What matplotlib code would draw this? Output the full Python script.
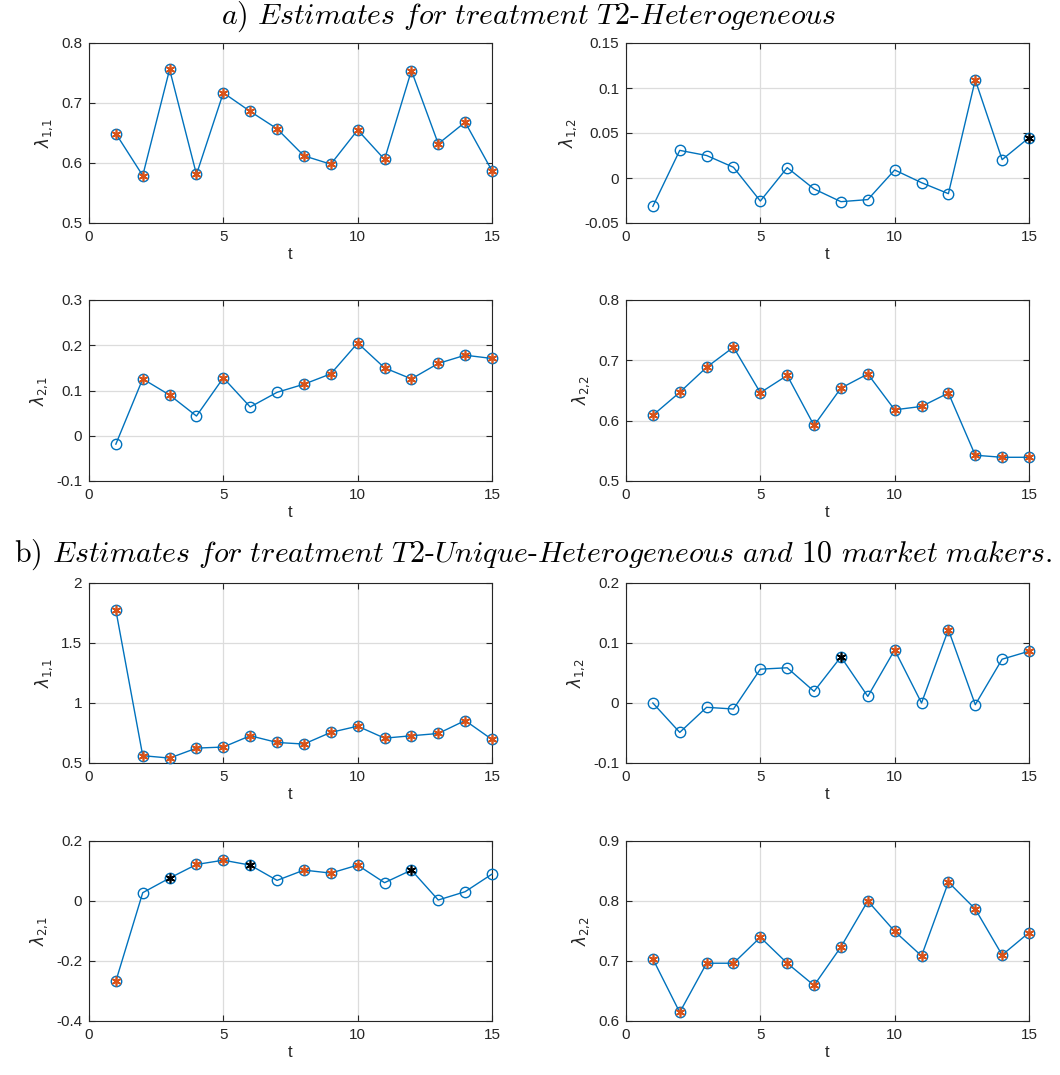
import matplotlib
matplotlib.use("Agg")
import matplotlib.pyplot as plt
import numpy as np

t = np.arange(1, 16)

# panel a) T2-Heterogeneous
a11 = [0.649, 0.579, 0.756, 0.581, 0.717, 0.686, 0.657, 0.612, 0.598, 0.655, 0.606, 0.754, 0.632, 0.668, 0.587]
a12 = [-0.0315, 0.0307, 0.025, 0.0119, -0.0256, 0.0115, -0.0122, -0.0263, -0.024, 0.0089, -0.0052, -0.0174, 0.109, 0.0204, 0.0448]
a21 = [-0.0185, 0.1257, 0.090, 0.0436, 0.128, 0.0636, 0.096, 0.1139, 0.1368, 0.2049, 0.150, 0.1257, 0.1598, 0.178, 0.1708]
a22 = [0.609, 0.647, 0.6885, 0.7218, 0.6464, 0.675, 0.592, 0.654, 0.6774, 0.618, 0.6236, 0.6458, 0.5427, 0.5393, 0.5393]

# panel b) T2-Unique-Heterogeneous, 10 market makers
b11 = [1.773, 0.561, 0.541, 0.624, 0.633, 0.727, 0.671, 0.658, 0.755, 0.807, 0.707, 0.727, 0.746, 0.854, 0.696]
b12 = [0.0, -0.049, -0.0072, -0.010, 0.0564, 0.0587, 0.0194, 0.0769, 0.011, 0.0885, 0.0, 0.1223, -0.0028, 0.073, 0.0863]
b21 = [-0.267, 0.0277, 0.0764, 0.1218, 0.136, 0.1196, 0.0687, 0.103, 0.093, 0.1196, 0.061, 0.103, 0.0033, 0.031, 0.0897]
b22 = [0.7035, 0.6144, 0.6963, 0.6963, 0.7395, 0.6963, 0.6593, 0.7235, 0.800, 0.7495, 0.7085, 0.8314, 0.7866, 0.710, 0.7473]

# periods flagged as significant (orange) and the other flag (black)
all_t = list(range(1, 16))
a11_sig, a11_blk = all_t, []
a12_sig, a12_blk = [13], [15]
a21_sig, a21_blk = [2, 3, 5, 8, 9, 10, 11, 12, 13, 14, 15], []
a22_sig, a22_blk = all_t, []
b11_sig, b11_blk = all_t, []
b12_sig, b12_blk = [10, 12, 15], [8]
b21_sig, b21_blk = [1, 4, 5, 8, 9, 10], [3, 6, 12]
b22_sig, b22_blk = all_t, []

ylims = {
    "a11": (0.5, 0.8, [0.5, 0.6, 0.7, 0.8]),
    "a12": (-0.05, 0.15, [-0.05, 0, 0.05, 0.1, 0.15]),
    "a21": (-0.1, 0.3, [-0.1, 0, 0.1, 0.2, 0.3]),
    "a22": (0.5, 0.8, [0.5, 0.6, 0.7, 0.8]),
    "b11": (0.5, 2, [0.5, 1, 1.5, 2]),
    "b12": (-0.1, 0.2, [-0.1, 0, 0.1, 0.2]),
    "b21": (-0.4, 0.2, [-0.4, -0.2, 0, 0.2]),
    "b22": (0.6, 0.9, [0.6, 0.7, 0.8, 0.9]),
}

BLUE = "#0072BD"
ORANGE = "#D95319"
AST = (6, 2, 0)
TXT = "#262626"

plt.rcParams["font.family"] = ["Liberation Sans", "DejaVu Sans"]

fig = plt.figure(figsize=(10.6, 10.75), dpi=100)

W, H = 1060, 1075
lefts = [89, 626]
rows = [(43, 223), (300, 481), (583, 763), (841, 1021)]


def panel(row, col, y, sig, blk, key, ylab):
    top, bot = rows[row]
    ax = fig.add_axes([lefts[col] / W, 1 - bot / H, 403 / W, (bot - top) / H])
    y = np.asarray(y)
    ax.plot(t, y, color=BLUE, lw=1.0, marker="o", ms=7.5, mfc="none", mec=BLUE,
            mew=1.0, zorder=3, clip_on=False)
    s = np.array(sig, dtype=int)
    if len(s):
        ax.plot(s, y[s - 1], ls="none", marker=AST, ms=7, color=ORANGE, mew=1.2,
                zorder=4, clip_on=False)
    b = np.array(blk, dtype=int)
    if len(b):
        ax.plot(b, y[b - 1], ls="none", marker=AST, ms=7, color="black", mew=1.2,
                zorder=4, clip_on=False)
    lo, hi, ticks = ylims[key]
    ax.set_xlim(0, 15)
    ax.set_ylim(lo, hi)
    ax.set_xticks([0, 5, 10, 15])
    ax.set_yticks(ticks)
    ax.set_yticklabels(["%g" % v for v in ticks])
    ax.grid(True, color="#dcdcdc", lw=0.9)
    ax.set_axisbelow(True)
    ax.tick_params(direction="in", length=4, width=0.8, top=True, right=True,
                   labelsize=11, colors=TXT, pad=5)
    for sp in ax.spines.values():
        sp.set_color(TXT)
        sp.set_linewidth(0.8)
    ax.set_xlabel("t", fontsize=12, color=TXT, labelpad=2)
    ax.set_ylabel(ylab, fontsize=12, color=TXT, math_fontfamily="dejavusans", labelpad=4)
    return ax


panel(0, 0, a11, a11_sig, a11_blk, "a11", r"$\lambda_{1{,}1}$")
panel(0, 1, a12, a12_sig, a12_blk, "a12", r"$\lambda_{1{,}2}$")
panel(1, 0, a21, a21_sig, a21_blk, "a21", r"$\lambda_{2{,}1}$")
panel(1, 1, a22, a22_sig, a22_blk, "a22", r"$\lambda_{2{,}2}$")
panel(2, 0, b11, b11_sig, b11_blk, "b11", r"$\lambda_{1{,}1}$")
panel(2, 1, b12, b12_sig, b12_blk, "b12", r"$\lambda_{1{,}2}$")
panel(3, 0, b21, b21_sig, b21_blk, "b21", r"$\lambda_{2{,}1}$")
panel(3, 1, b22, b22_sig, b22_blk, "b22", r"$\lambda_{2{,}2}$")

fig.text(529 / W, 1 - 17 / H,
         r"$\mathit{a)\ Estimates\ for\ treatment\ T2\text{-}Heterogeneous}$",
         ha="center", va="center", fontsize=21.5, math_fontfamily="cm", family="cmr10")
fig.text(533 / W, 1 - 555 / H,
         r"b) $\mathit{Estimates\ for\ treatment\ T2\text{-}Unique\text{-}Heterogeneous\ and}$ 10 $\mathit{market\ makers.}$",
         ha="center", va="center", fontsize=21.5, math_fontfamily="cm", family="cmr10")

fig.savefig("out.png", dpi=100, facecolor="white")
